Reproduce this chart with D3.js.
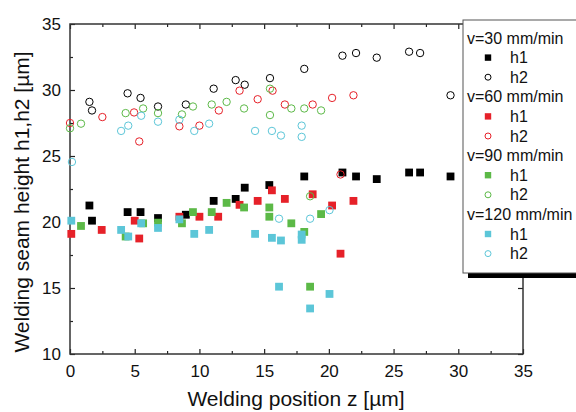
<!DOCTYPE html>
<html>
<head>
<meta charset="utf-8">
<script src="https://cdn.jsdelivr.net/npm/d3@7.9.0/dist/d3.min.js"></script>
<style>
  html, body { margin: 0; padding: 0; background: #fff; }
  svg { display: block; font-family: "Liberation Sans", Arial, sans-serif; }
</style>
</head>
<body>
<div id="chart"></div>
<script>
// [z, height] pairs
const h1_v30 = [[1.5,21.25],[1.7,20.1],[4.45,20.75],[5.45,20.75],[6.8,20.3],[8.95,20.55],[11.1,21.6],
  [12.8,21.75],[13.5,22.6],[15.4,22.8],[18.1,23.45],[21.05,23.75],[22.1,23.45],[23.7,23.25],
  [26.2,23.75],[27.05,23.75],[29.4,23.45]];
const h2_v30 = [[1.5,29.1],[1.7,28.45],[4.45,29.75],[5.45,29.4],[6.8,28.75],[8.95,28.9],[11.1,30.1],
  [12.8,30.75],[13.5,30.4],[15.45,30.9],[18.1,31.6],[21.05,32.6],[22.1,32.8],[23.7,32.45],
  [26.2,32.9],[27.05,32.8],[29.4,29.6]];

const h1_v60 = [[0.1,19.1],[2.45,19.4],[5.0,20.1],[5.35,18.75],[8.45,20.4],[10.0,20.4],[11.45,20.4],
  [13.1,21.3],[14.5,21.6],[15.6,22.4],[16.6,21.75],[18.75,22.1],[20.25,21.25],[21.9,21.6],[20.9,17.6]];
const h2_v60 = [[0,27.5],[2.5,27.95],[4.95,28.3],[5.35,26.1],[8.45,27.25],[10.0,27.3],[11.5,28.45],
  [13.1,29.95],[14.5,29.3],[15.65,29.95],[16.6,28.9],[18.75,28.9],[20.25,29.4],[21.9,29.6],[20.9,23.6]];

const h1_v90 = [[0.85,19.7],[4.3,18.9],[5.65,19.9],[6.8,19.95],[8.65,19.9],[9.5,20.75],[10.95,20.75],
  [12.1,21.45],[13.45,21.1],[15.4,21.1],[15.4,20.4],[17.1,19.9],[18.1,19.25],[19.4,20.6],[18.55,15.1]];
const h2_v90 = [[0,27.1],[0.85,27.45],[4.3,28.25],[5.65,28.6],[6.8,28.25],[8.65,28.15],[9.5,28.75],
  [10.95,28.9],[12.1,29.1],[13.45,28.6],[15.45,30.1],[15.45,28.1],[17.1,28.6],[18.1,28.6],[19.4,28.45],
  [18.55,21.95]];

const h1_v120 = [[0.1,20.1],[3.95,19.4],[4.5,18.9],[5.5,19.9],[6.8,19.55],[8.45,20.2],[9.6,19.1],
  [10.75,19.4],[14.3,19.1],[15.6,18.8],[16.3,18.6],[17.9,19.05],[17.9,18.65],[16.15,15.1],[18.55,13.45],
  [20.05,14.55]];
const h2_v120 = [[0.15,24.55],[3.95,26.9],[4.5,27.3],[5.5,28.05],[6.8,27.6],[8.45,27.75],[9.6,26.9],
  [10.75,27.45],[14.3,26.9],[15.6,26.9],[16.3,26.55],[17.9,27.3],[17.9,26.45],[16.15,20.25],
  [18.55,20.25],[20.05,20.9]];

const speeds = ['v=30 mm/min', 'v=60 mm/min', 'v=90 mm/min', 'v=120 mm/min'];
const colors = ['#000000', '#e62129', '#5cb947', '#5cc6d8'];
const xTicks = [0, 5, 10, 15, 20, 25, 30, 35];
const yTicks = [10, 15, 20, 25, 30, 35];

const groups = [
  { h1: h1_v30, h2: h2_v30 },
  { h1: h1_v60, h2: h2_v60 },
  { h1: h1_v90, h2: h2_v90 },
  { h1: h1_v120, h2: h2_v120 },
];

const W = 576, H = 412;
const margin = { top: 24, left: 70, right: 53, bottom: 58 };
const width = W - margin.left - margin.right;
const height = H - margin.top - margin.bottom;

const svg = d3.select('#chart').append('svg')
  .attr('width', W).attr('height', H);

const g = svg.append('g')
  .attr('transform', `translate(${margin.left},${margin.top})`);

const x = d3.scaleLinear().domain([0, 35]).range([0, width]);
const y = d3.scaleLinear().domain([10, 35]).range([height, 0]);

const minorX = d3.range(2.5, 35, 5);
const minorY = d3.range(12.5, 35, 5);

// ── axes, ticks pointing inwards ──
function styleAxis(sel) {
  sel.select('.domain').remove();
  sel.selectAll('line').attr('stroke', '#222').attr('stroke-width', 1.2);
  sel.selectAll('text').attr('font-size', 17).attr('fill', '#111')
    .attr('font-family', '"Liberation Sans", Arial, sans-serif');
}

g.append('g').attr('transform', `translate(0,${height})`)
  .call(d3.axisBottom(x).tickValues(xTicks).tickSizeInner(-5).tickSizeOuter(0).tickPadding(11))
  .call(styleAxis);
g.append('g').attr('transform', `translate(0,${height})`)
  .call(d3.axisBottom(x).tickValues(minorX).tickSize(-3).tickFormat(''))
  .call(styleAxis);
g.append('g')
  .call(d3.axisTop(x).tickValues(xTicks).tickSize(-5).tickFormat(''))
  .call(styleAxis);
g.append('g')
  .call(d3.axisTop(x).tickValues(minorX).tickSize(-3).tickFormat(''))
  .call(styleAxis);

g.append('g')
  .call(d3.axisLeft(y).tickValues(yTicks).tickSizeInner(-5).tickSizeOuter(0).tickPadding(9))
  .call(styleAxis);
g.append('g')
  .call(d3.axisLeft(y).tickValues(minorY).tickSize(-3).tickFormat(''))
  .call(styleAxis);
g.append('g').attr('transform', `translate(${width},0)`)
  .call(d3.axisRight(y).tickValues(yTicks).tickSize(-5).tickFormat(''))
  .call(styleAxis);

g.append('rect')
  .attr('width', width).attr('height', height)
  .attr('fill', 'none').attr('stroke', '#333').attr('stroke-width', 1.5);

// ── points ──
groups.forEach((grp, i) => {
  g.append('g').selectAll('rect')
    .data(grp.h1)
    .join('rect')
      .attr('x', d => x(d[0]) - 3.9)
      .attr('y', d => y(d[1]) - 3.9)
      .attr('width', 7.8).attr('height', 7.8)
      .attr('fill', colors[i]);
  g.append('g').selectAll('circle')
    .data(grp.h2)
    .join('circle')
      .attr('cx', d => x(d[0]))
      .attr('cy', d => y(d[1]))
      .attr('r', 3.7)
      .attr('fill', 'none')
      .attr('stroke', colors[i])
      .attr('stroke-width', 1);
});

// ── axis titles ──
svg.append('text')
  .attr('x', 296)
  .attr('y', 406)
  .attr('text-anchor', 'middle')
  .attr('font-size', 21).attr('fill', '#111')
  .text('Welding position z [µm]');

svg.append('text')
  .attr('transform', 'translate(29,202) rotate(-90)')
  .attr('text-anchor', 'middle')
  .attr('font-size', 21).attr('fill', '#111')
  .text('Welding seam height h1,h2 [µm]');

// ── legend ──
const lg = svg.append('g').attr('transform', 'translate(463,20)');
const lgW = 130, lgH = 253;
lg.append('rect').attr('x', 5).attr('y', 5).attr('width', lgW).attr('height', lgH).attr('fill', '#000');
lg.append('rect').attr('width', lgW).attr('height', lgH)
  .attr('fill', '#fff').attr('stroke', '#555').attr('stroke-width', 1);

const rowH = 19.6;
speeds.forEach((s, i) => {
  const y0 = 18 + i * rowH * 3;
  lg.append('text').attr('x', 4).attr('y', y0 + 5.5)
    .attr('font-size', 16).attr('fill', '#111').text(s);
  lg.append('rect').attr('x', 25 - 3.2).attr('y', y0 + rowH - 3.2)
    .attr('width', 6.4).attr('height', 6.4).attr('fill', colors[i]);
  lg.append('text').attr('x', 47).attr('y', y0 + rowH + 5.5)
    .attr('font-size', 16).attr('fill', '#111').text('h1');
  lg.append('circle').attr('cx', 25).attr('cy', y0 + 2 * rowH).attr('r', 3)
    .attr('fill', 'none').attr('stroke', colors[i]).attr('stroke-width', 1);
  lg.append('text').attr('x', 47).attr('y', y0 + 2 * rowH + 5.5)
    .attr('font-size', 16).attr('fill', '#111').text('h2');
});
</script>
</body>
</html>
